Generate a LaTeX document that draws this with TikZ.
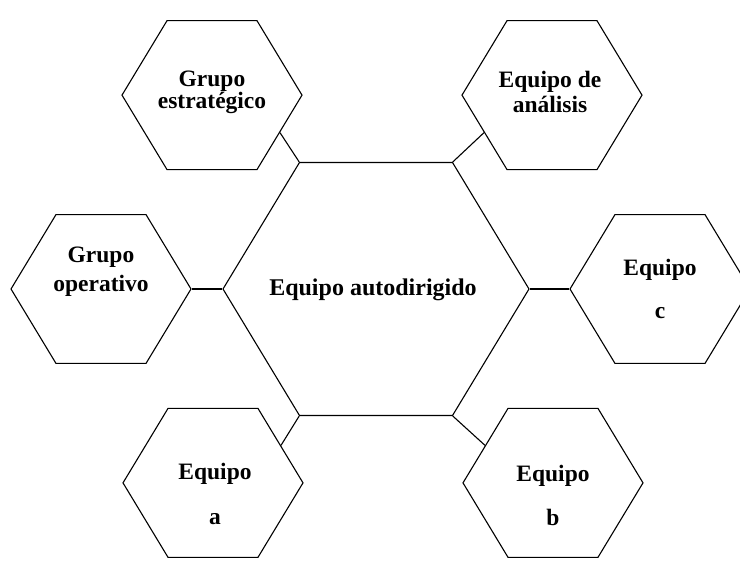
\documentclass[tikz,border=0pt]{standalone}
\usepackage{fontspec}
\setmainfont{Liberation Serif}
\usetikzlibrary{shapes.geometric}

\begin{document}
\begin{tikzpicture}[node distance=203pt, line width=1.1pt]
  \tikzstyle{hexa}=[regular polygon, regular polygon sides=6, draw=black, inner sep=0pt, minimum size=180pt, yscale=0.955]
  \tikzstyle{txt}=[align=center, inner sep=0pt, font=\bfseries\fontsize{23.5}{22}\selectfont]
  \clip (0,0) rectangle (740pt,566pt);

  % centre
  \node[hexa, minimum size=306pt] (centre) at (376pt,277pt) {};
  \node[txt, xshift=-3pt, yshift=-1pt, font=\bfseries\fontsize{24}{22}\selectfont] (centre-t) at (centre) {Equipo autodirigido};

  % upper row
  \node[hexa, above of=centre, xshift=-164pt] (ge) {};
  \node[txt, yshift=3pt] (ge-t) at (ge) {Grupo\\estratégico};
  \node[hexa, above of=centre, xshift=176pt] (ea) {};
  \node[txt, xshift=-2pt, yshift=3pt] (ea-t) at (ea) {Equipo de\\[3pt]análisis};

  % middle row
  \node[hexa, left of=centre, xshift=-72pt] (go) {};
  \node[txt, yshift=17pt] (go-t) at (go) {Grupo\\[7pt]operativo};
  \node[hexa, right of=centre, xshift=81pt] (ec) {};
  \node[txt] (ec-t) at (ec) {Equipo\\[21pt]c};

  % lower row
  \node[hexa, below of=centre, xshift=-163pt] (eqa) {};
  \node[txt, xshift=2pt, yshift=-11pt] (eqa-t) at (eqa) {Equipo\\[23pt]a};
  \node[hexa, below of=centre, xshift=177pt] (eqb) {};
  \node[txt, yshift=-13pt] (eqb-t) at (eqb) {Equipo\\[22pt]b};

  % connectors
  \draw (ge.side 5) -- (centre.corner 2);
  \draw (ea.side 3) -- (centre.corner 1);
  \draw (go.corner 6) -- (centre.corner 3);
  \draw (ec.corner 3) -- (centre.corner 6);
  \draw (eqa.side 6) -- (centre.corner 4);
  \draw (eqb.side 2) -- (centre.corner 5);

\end{tikzpicture}
\end{document}
